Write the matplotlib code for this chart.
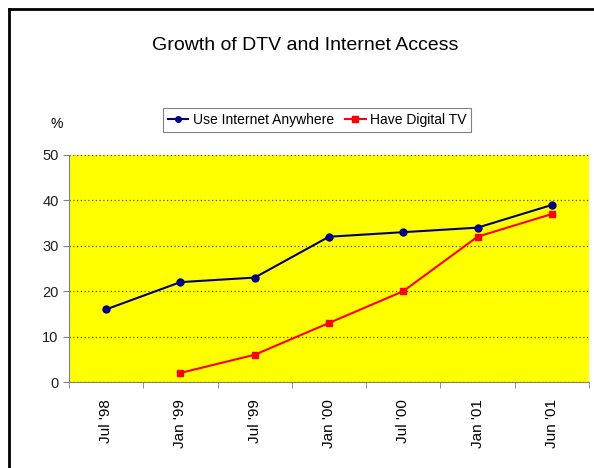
import matplotlib.pyplot as plt
import numpy as np

# data
periods = ["Jul '98", "Jan '99", "Jul '99", "Jan '00", "Jul '00", "Jan '01", "Jun '01"]
internet = [16, 22, 23, 32, 33, 34, 39]
digital_tv = [np.nan, 2, 6, 13, 20, 32, 37]
y_ticks = [0, 10, 20, 30, 40, 50]

plt.rcParams['font.family'] = ['Liberation Sans', 'DejaVu Sans']

fig = plt.figure(figsize=(5.94, 4.68), dpi=100)
W, H = 594, 468

# outer frame (left and top edges visible)
fig.add_artist(plt.Line2D([9 / W, 9 / W], [0, 1 - 9 / H], color='black', lw=2, transform=fig.transFigure))
fig.add_artist(plt.Line2D([9 / W, 1], [1 - 9 / H, 1 - 9 / H], color='black', lw=2, transform=fig.transFigure))

ax = fig.add_axes([69 / W, 1 - 382 / H, 520 / W, 227 / H])
ax.set_facecolor('#ffff00')

x = np.arange(len(periods))
ax.plot(x, internet, color='#000080', marker='o', markersize=5, lw=1.5, label='Use Internet Anywhere')
ax.plot(x, digital_tv, color='#ff0000', marker='s', markersize=5, lw=1.5, label='Have Digital TV')

ax.set_xlim(-0.5, len(periods) - 0.5)
ax.set_ylim(0, 50)
ax.set_yticks(y_ticks)
ax.set_xticks(x)
ax.set_xticklabels(periods, rotation=90, fontsize=11)
ax.set_xticks(np.arange(len(periods) + 1) - 0.5, minor=True)
ax.tick_params(axis='x', which='major', length=0, pad=12)
ax.tick_params(axis='x', which='minor', length=4, color='#808080', direction='out')
ax.tick_params(axis='y', labelsize=10.5, length=4, color='#808080', labelcolor='#202020')
ax.grid(axis='y', color='#555500', linestyle=(0, (1, 2)), lw=0.9)
ax.set_axisbelow(True)
for side in ['top', 'right']:
    ax.spines[side].set_visible(False)
for side in ['left', 'bottom']:
    ax.spines[side].set_color('#808080')

fig.text(305 / W, 1 - 45 / H, 'Growth of DTV and Internet Access', ha='center', va='center', fontsize=14)
fig.text(57 / W, 1 - 124 / H, '%', ha='center', va='center', fontsize=10)

leg = fig.legend(loc='center', bbox_to_anchor=(317 / W, 1 - 120 / H), ncol=2, fontsize=10,
                 frameon=True, fancybox=False, edgecolor='#606060', handlelength=1.5,
                 columnspacing=0.8, handletextpad=0.3, borderpad=0.35, markerscale=0.8)
leg.get_frame().set_linewidth(0.8)

fig.savefig('out.png', dpi=100)
